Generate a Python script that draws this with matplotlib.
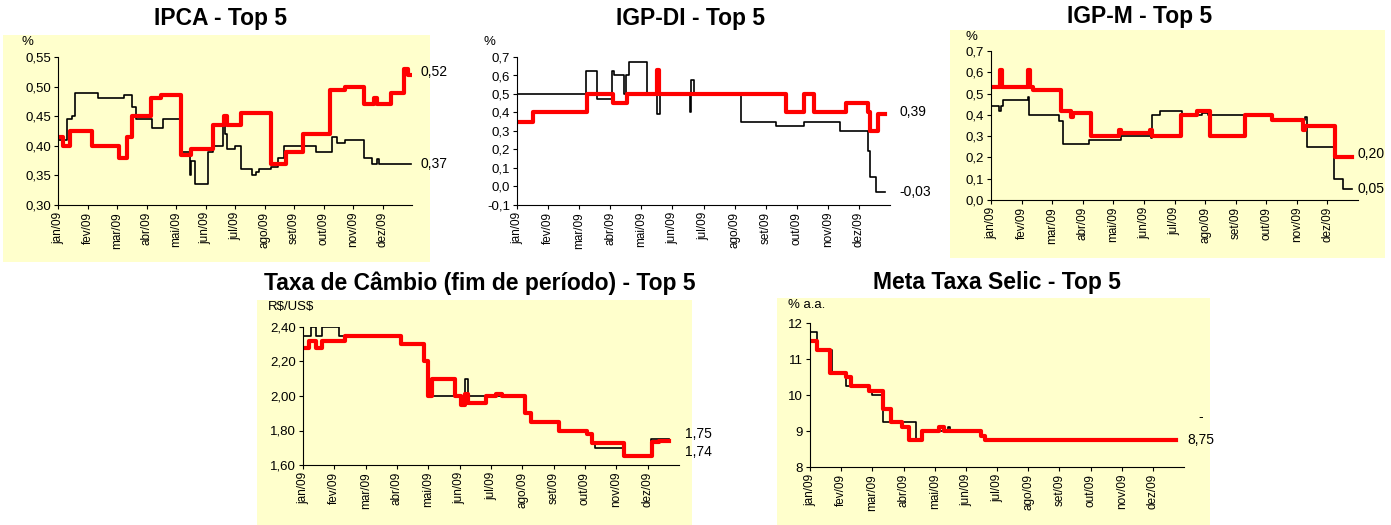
import matplotlib
matplotlib.use("Agg")
import matplotlib.pyplot as plt

plt.rcParams['font.family'] = ['Liberation Sans', 'DejaVu Sans']

months = ['jan/09', 'fev/09', 'mar/09', 'abr/09', 'mai/09', 'jun/09',
          'jul/09', 'ago/09', 'set/09', 'out/09', 'nov/09', 'dez/09']

# step series: breakpoints in months (jan = 0) and values
ipca_top5_x = [0, 0.29, 0.46, 0.57, 1.37, 2.23, 2.5, 2.63, 3.2, 3.55, 4.12, 4.47, 4.52, 4.64, 5.1, 5.27,
               5.6, 5.65, 5.73, 6.01, 6.19, 6.59, 6.7, 6.8, 7.22, 7.45, 7.67, 8.76, 9.28, 9.45, 9.74,
               10.37, 10.65, 10.8, 10.88, 11.95]
ipca_top5_y = [0.41, 0.445, 0.45, 0.49, 0.48, 0.485, 0.465, 0.445, 0.43, 0.445, 0.39, 0.35, 0.375, 0.335, 0.39, 0.40,
               0.44, 0.42, 0.395, 0.40, 0.36, 0.35, 0.355, 0.36, 0.365, 0.38, 0.40, 0.39, 0.415, 0.405, 0.41,
               0.38, 0.37, 0.378, 0.37, 0.37]
ipca_med_x = [0, 0.17, 0.4, 1.15, 2.06, 2.35, 2.52, 3.15, 3.49, 4.18, 4.52, 5.27, 5.62, 5.72, 6.19, 7.22,
              7.73, 8.3, 9.22, 9.74, 10.37, 10.72, 10.82, 11.28, 11.74, 11.86, 11.95]
ipca_med_y = [0.415, 0.40, 0.425, 0.40, 0.38, 0.415, 0.45, 0.48, 0.485, 0.385, 0.395, 0.435, 0.45, 0.435, 0.455, 0.37,
              0.39, 0.42, 0.495, 0.50, 0.47, 0.48, 0.47, 0.49, 0.53, 0.52, 0.52]

igpdi_top5_x = [0, 2.23, 2.57, 3.05, 3.12, 3.43, 3.5, 3.59, 4.17, 4.4, 4.52, 4.6, 5.55, 5.6, 5.7, 7.2,
                8.32, 9.22, 10.39, 11.3, 11.35, 11.4, 11.56, 11.83]
igpdi_top5_y = [0.5, 0.625, 0.475, 0.625, 0.6, 0.5, 0.6, 0.675, 0.5, 0.5, 0.39, 0.5, 0.4, 0.575, 0.5, 0.35,
                0.325, 0.35, 0.30, 0.19, 0.05, 0.05, -0.03, -0.03]
igpdi_med_x = [0, 0.5, 2.26, 3.1, 3.53, 4.45, 4.5, 4.58, 8.64, 9.22, 9.54, 10.6, 11.3, 11.36, 11.6, 11.83]
igpdi_med_y = [0.35, 0.40, 0.50, 0.45, 0.50, 0.50, 0.63, 0.50, 0.40, 0.50, 0.40, 0.45, 0.40, 0.30, 0.39, 0.39]

igpm_top5_x = [0, 0.27, 0.33, 0.38, 1.2, 1.25, 2.23, 2.36, 3.2, 4.24, 5.22, 5.27, 5.54, 6.25, 6.9, 7.1,
               9.18, 10.27, 10.33, 11.2, 11.52, 11.8]
igpm_top5_y = [0.44, 0.42, 0.44, 0.47, 0.485, 0.40, 0.37, 0.265, 0.28, 0.30, 0.29, 0.40, 0.42, 0.40, 0.41, 0.40,
               0.375, 0.39, 0.25, 0.10, 0.05, 0.05]
igpm_med_x = [0, 0.3, 0.36, 1.22, 1.28, 1.36, 2.28, 2.6, 2.68, 3.26, 4.18, 4.24, 5.2, 5.26, 6.2, 6.74,
              7.17, 8.3, 9.18, 10.2, 10.26, 11.25, 11.8]
igpm_med_y = [0.53, 0.61, 0.53, 0.61, 0.53, 0.515, 0.42, 0.39, 0.41, 0.30, 0.33, 0.315, 0.33, 0.30, 0.40, 0.42,
              0.30, 0.40, 0.375, 0.33, 0.35, 0.20, 0.20]

cambio_top5_x = [0, 0.26, 0.42, 0.62, 1.15, 1.4, 3.12, 3.85, 4.0, 4.06, 5.16, 5.26, 7.08, 7.29, 8.18,
                 9.06, 9.22, 9.32, 10.2, 11.1, 11.67]
cambio_top5_y = [2.35, 2.40, 2.35, 2.40, 2.35, 2.35, 2.30, 2.20, 2.10, 2.00, 2.10, 2.00, 1.90, 1.85, 1.80,
                 1.78, 1.72, 1.70, 1.65, 1.75, 1.75]
cambio_med_x = [0, 0.2, 0.42, 0.62, 1.35, 3.12, 3.85, 4.0, 4.06, 4.11, 4.84, 5.05, 5.18, 5.26, 5.36, 5.83,
                6.15, 6.35, 7.08, 7.29, 8.18, 9.06, 9.22, 9.37, 10.26, 11.15, 11.35, 11.67]
cambio_med_y = [2.28, 2.32, 2.28, 2.32, 2.35, 2.30, 2.20, 2.00, 2.00, 2.10, 2.00, 1.95, 2.01, 1.96, 1.96, 2.00,
                2.01, 2.00, 1.90, 1.85, 1.80, 1.78, 1.73, 1.73, 1.65, 1.735, 1.74, 1.74]

selic_top5_x = [0, 0.24, 0.69, 1.16, 1.9, 2.0, 2.22, 2.33, 3.39, 3.6, 4.44, 4.5, 5.5, 5.6, 11.75]
selic_top5_y = [11.75, 11.25, 10.625, 10.25, 10.125, 10.0, 10.0, 9.25, 8.75, 9.0, 9.1, 9.0, 8.875, 8.75, 8.75]
selic_med_x = [0, 0.21, 0.63, 1.16, 1.32, 1.9, 2.33, 2.59, 2.96, 3.17, 3.6, 4.13, 4.29, 5.5, 5.6, 11.75]
selic_med_y = [11.5, 11.25, 10.625, 10.5, 10.25, 10.125, 9.625, 9.25, 9.125, 8.75, 9.0, 9.125, 9.0, 8.875, 8.75, 8.75]

W, H = 1391, 525
fig = plt.figure(figsize=(W / 100, H / 100), dpi=100)

def px_rect(x0, y0, x1, y1):
    return [x0 / W, 1 - y1 / H, (x1 - x0) / W, (y1 - y0) / H]

def panel(bg, ax_box, title, title_xy, unit, unit_px, xs_top, ys_top, xs_med, ys_med,
          ylim, yticks, yfmt, labels):
    if bg is not None:
        bgax = fig.add_axes(px_rect(*bg), zorder=0)
        bgax.set_facecolor('#ffffcc')
        bgax.set_xticks([])
        bgax.set_yticks([])
        for s in bgax.spines.values():
            s.set_visible(False)
    fig.text(title_xy[0] / W, 1 - title_xy[1] / H, title, ha='center', va='center',
             fontsize=16.5, fontweight='bold')
    ax = fig.add_axes(px_rect(*ax_box), zorder=2)
    ax.patch.set_alpha(0)
    ax.step(xs_top, ys_top, where='post', color='black', lw=1.2)
    ax.step(xs_med, ys_med, where='post', color='#ff0000', lw=3.0)
    ax.set_xlim(0, 12)
    ax.set_ylim(*ylim)
    ax.set_yticks(yticks)
    ax.set_yticklabels([yfmt(v) for v in yticks], fontsize=9.5)
    ax.set_xticks(range(12))
    ax.set_xticklabels(months, rotation=90, fontsize=8.5)
    ax.tick_params(length=3, width=0.8, pad=2)
    for s in ['top', 'right']:
        ax.spines[s].set_visible(False)
    fig.text(unit_px[0] / W, 1 - unit_px[1] / H, unit, fontsize=9.5, ha='left', va='center')
    for xv, yv, txt in labels:
        ax.text(xv, yv, txt, fontsize=10, va='center', ha='left', clip_on=False)
    return ax

comma = lambda d: (lambda v: f'{v:.{d}f}'.replace('.', ','))

panel((3, 35, 430, 262), (58, 57, 412, 205), 'IPCA - Top 5', (220, 18), '%', (21, 42),
      ipca_top5_x, ipca_top5_y, ipca_med_x, ipca_med_y,
      (0.30, 0.55), [0.30, 0.35, 0.40, 0.45, 0.50, 0.55], comma(2),
      [(12.3, 0.525, '0,52'), (12.3, 0.37, '0,37')])
panel(None, (517, 57, 890, 205), 'IGP-DI - Top 5', (690, 18), '%', (484, 42),
      igpdi_top5_x, igpdi_top5_y, igpdi_med_x, igpdi_med_y,
      (-0.1, 0.7), [-0.1, 0, 0.1, 0.2, 0.3, 0.4, 0.5, 0.6, 0.7], comma(1),
      [(12.3, 0.4, '0,39'), (12.3, -0.03, '-0,03')])
panel((950, 30, 1385, 258), (991, 51, 1358, 200), 'IGP-M - Top 5', (1140, 17), '%', (966, 37),
      igpm_top5_x, igpm_top5_y, igpm_med_x, igpm_med_y,
      (0, 0.7), [0, 0.1, 0.2, 0.3, 0.4, 0.5, 0.6, 0.7], comma(1),
      [(12.0, 0.215, '0,20'), (12.0, 0.05, '0,05')])
panel((257, 300, 692, 525), (303, 327, 679, 465), 'Taxa de Câmbio (fim de período) - Top 5', (480, 283),
      r'R\$/US\$', (268, 307), cambio_top5_x, cambio_top5_y, cambio_med_x, cambio_med_y,
      (1.6, 2.4), [1.6, 1.8, 2.0, 2.2, 2.4], comma(2),
      [(12.2, 1.78, '1,75'), (12.2, 1.675, '1,74')])
panel((777, 298, 1210, 525), (810, 323, 1184, 467), 'Meta Taxa Selic - Top 5', (997, 283), '% a.a.',
      (788, 305), selic_top5_x, selic_top5_y, selic_med_x, selic_med_y,
      (8, 12), [8, 9, 10, 11, 12], lambda v: f'{v:.0f}',
      [(12.1, 8.75, '8,75'), (12.45, 9.4, '-')])

fig.savefig('out.png', dpi=100)
